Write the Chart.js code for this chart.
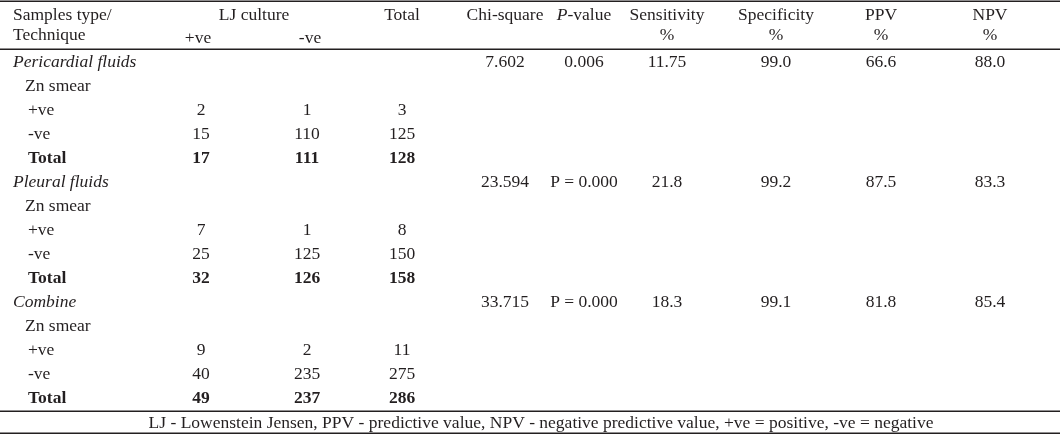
<!DOCTYPE html>
<html>
<head>
<meta charset="utf-8">
<script src="https://cdn.jsdelivr.net/npm/chart.js@4.4.1/dist/chart.umd.min.js"></script>
<style>
  html, body { margin: 0; padding: 0; background: #fff; }
  #wrap { width: 1060px; height: 436px; position: relative; }
</style>
</head>
<body>
<div id="wrap"><canvas id="tabla"></canvas></div>
<script>
// datos de la tabla
var grupos = ["Pericardial fluids", "Pleural fluids", "Combine"];
var filaPos = [[2, 1, 3], [7, 1, 8], [9, 2, 11]];          // Zn +ve: LJ +ve, LJ -ve, total
var filaNeg = [[15, 110, 125], [25, 125, 150], [40, 235, 275]];
var filaTotal = [[17, 111, 128], [32, 126, 158], [49, 237, 286]];
var chiCuadrado = ["7.602", "23.594", "33.715"];
var valorP = ["0.006", "P = 0.000", "P = 0.000"];
var sensibilidad = ["11.75", "21.8", "18.3"];
var especificidad = ["99.0", "99.2", "99.1"];
var vpp = ["66.6", "87.5", "81.8"];
var vpn = ["88.0", "83.3", "85.4"];
var subFilas = ["Zn smear", "+ve", "-ve", "Total"];
var nota = "LJ - Lowenstein Jensen, PPV - predictive value, NPV - negative predictive value, +ve = positive, -ve = negative";

// posiciones de columnas (en unidades del eje x) y filas (eje y)
var colX = { label: 13, sub: 28, pos: 201, neg: 307, total: 402, chi: 505, p: 584, sens: 667, spec: 776, ppv: 881, npv: 990, mid: 541 };
var filaH1 = -1.96, filaH2 = -1.12, filaNota = 15.05;
var lineas = [-2.54, -0.55, 14.55, 15.45];

var FAM = "'Liberation Serif', 'Times New Roman', serif";
var fNormal = "17.5px " + FAM;
var fBold = "bold 17.5px " + FAM;
var fItal = "italic 17.5px " + FAM;

function celda(x, y, text, font, align) {
  return { x: x, y: y, text: text, font: font || fNormal, align: align || "center" };
}

var celdas = [];
// encabezado
celdas.push(celda(colX.label, filaH1, "Samples type/", fNormal, "left"));
celdas.push(celda(colX.label, filaH2, "Technique", fNormal, "left"));
celdas.push(celda((colX.pos + colX.neg) / 2, filaH1, "LJ culture"));
celdas.push(celda(colX.pos - 3, filaH2 + 0.15, "+ve"));
celdas.push(celda(colX.neg + 3, filaH2 + 0.15, "-ve"));
celdas.push(celda(colX.total, filaH1, "Total"));
celdas.push(celda(colX.chi, filaH1, "Chi-square"));
celdas.push(celda(colX.p, filaH1, ["P", "-value"], fNormal));
celdas.push(celda(colX.sens, filaH1, "Sensitivity"));
celdas.push(celda(colX.sens, filaH2, "%"));
celdas.push(celda(colX.spec, filaH1, "Specificity"));
celdas.push(celda(colX.spec, filaH2, "%"));
celdas.push(celda(colX.ppv, filaH1, "PPV"));
celdas.push(celda(colX.ppv, filaH2, "%"));
celdas.push(celda(colX.npv, filaH1, "NPV"));
celdas.push(celda(colX.npv, filaH2, "%"));

// cuerpo
grupos.forEach(function (g, i) {
  var base = i * 5;
  celdas.push(celda(colX.label, base, g, fItal, "left"));
  celdas.push(celda(colX.chi, base, chiCuadrado[i]));
  celdas.push(celda(colX.p, base, valorP[i]));
  celdas.push(celda(colX.sens, base, sensibilidad[i]));
  celdas.push(celda(colX.spec, base, especificidad[i]));
  celdas.push(celda(colX.ppv, base, vpp[i]));
  celdas.push(celda(colX.npv, base, vpn[i]));
  subFilas.forEach(function (s, k) {
    celdas.push(celda(k == 0 ? colX.sub - 3 : colX.sub, base + 1 + k, s, k == 3 ? fBold : fNormal, "left"));
  });
  [filaPos[i], filaNeg[i], filaTotal[i]].forEach(function (fila, k) {
    var f = k == 2 ? fBold : fNormal;
    celdas.push(celda(colX.pos, base + 2 + k, String(fila[0]), f));
    celdas.push(celda(colX.neg, base + 2 + k, String(fila[1]), f));
    celdas.push(celda(colX.total, base + 2 + k, String(fila[2]), f));
  });
});
celdas.push(celda(colX.mid, filaNota, nota));

var textoPlugin = {
  id: "textoTabla",
  afterDatasetsDraw: function (chart) {
    var ctx = chart.ctx;
    var xs = chart.scales.x, ys = chart.scales.y;
    ctx.save();
    // reglas horizontales
    ctx.strokeStyle = "#231f20";
    ctx.lineWidth = 1.5;
    lineas.forEach(function (v) {
      var py = Math.round(ys.getPixelForValue(v)) + 0.25;
      ctx.beginPath();
      ctx.moveTo(xs.left, py);
      ctx.lineTo(xs.right, py);
      ctx.stroke();
    });
    ctx.fillStyle = "#231f20";
    ctx.textBaseline = "middle";
    var meta = chart.getDatasetMeta(0);
    chart.data.datasets[0].data.forEach(function (d, i) {
      var el = meta.data[i];
      if (Array.isArray(d.text)) {
        // "P" en cursiva + "-value"
        ctx.font = fItal;
        var w1 = ctx.measureText(d.text[0]).width;
        ctx.font = d.font;
        var w2 = ctx.measureText(d.text[1]).width;
        var x0 = el.x - (w1 + w2) / 2;
        ctx.textAlign = "left";
        ctx.font = fItal;
        ctx.fillText(d.text[0], x0, el.y);
        ctx.font = d.font;
        ctx.fillText(d.text[1], x0 + w1, el.y);
        return;
      }
      ctx.font = d.font;
      ctx.textAlign = d.align;
      ctx.fillText(d.text, el.x, el.y);
    });
    ctx.restore();
  }
};

new Chart(document.getElementById("tabla"), {
  type: "scatter",
  data: {
    datasets: [{
      data: celdas,
      pointRadius: 0,
      pointHoverRadius: 0
    }]
  },
  options: {
    responsive: true,
    maintainAspectRatio: false,
    animation: false,
    layout: { padding: 0 },
    plugins: { legend: { display: false }, tooltip: { enabled: false } },
    scales: {
      x: { type: "linear", display: false, min: 0, max: 1060 },
      y: { type: "linear", display: false, reverse: true, min: -62 / 24, max: (436 - 62) / 24 }
    }
  },
  plugins: [textoPlugin]
});
</script>
</body>
</html>
